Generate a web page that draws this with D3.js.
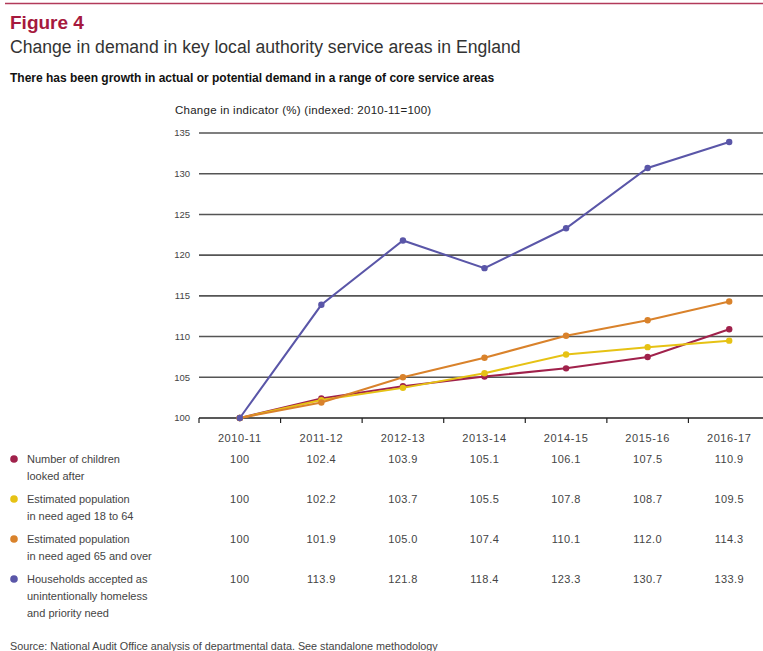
<!DOCTYPE html>
<html>
<head>
<meta charset="utf-8">
<script src="https://cdn.jsdelivr.net/npm/d3@7"></script>
<style>
  body { margin: 0; background: #fff; }
  svg { font-family: "Liberation Sans", Arial, sans-serif; }
</style>
</head>
<body>
<div id="container"></div>
<script>
/* DATA */
const years = ["2010-11", "2011-12", "2012-13", "2013-14", "2014-15", "2015-16", "2016-17"];
const children = [100, 102.4, 103.9, 105.1, 106.1, 107.5, 110.9];
const aged18to64 = [100, 102.2, 103.7, 105.5, 107.8, 108.7, 109.5];
const aged65plus = [100, 101.9, 105.0, 107.4, 110.1, 112.0, 114.3];
const homeless = [100, 113.9, 121.8, 118.4, 123.3, 130.7, 133.9];
const yTicks = [100, 105, 110, 115, 120, 125, 130, 135];
const seriesNames = [
  ["Number of children", "looked after"],
  ["Estimated population", "in need aged 18 to 64"],
  ["Estimated population", "in need aged 65 and over"],
  ["Households accepted as", "unintentionally homeless", "and priority need"]
];
const seriesColors = ["#a0214b", "#e6c214", "#d9822b", "#5a56a8"];

const series = [children, aged18to64, aged65plus, homeless].map((values, i) => ({
  name: seriesNames[i], color: seriesColors[i], values
}));

/* CONSTANTS */
const W = 763, H = 651;
const plotLeft = 199, plotRight = 770, plotTop = 133, plotBottom = 418;

const svg = d3.select("#container").append("svg")
  .attr("width", W).attr("height", H);

// top rule + titles
svg.append("line").attr("x1", 5).attr("x2", W).attr("y1", 3.5).attr("y2", 3.5)
  .attr("stroke", "#b23a5a").attr("stroke-width", 1.5);
svg.append("text").text("Figure 4").attr("x", 10).attr("y", 29)
  .attr("font-size", 19).attr("font-weight", "bold").attr("fill", "#a6193e");
svg.append("text").text("Change in demand in key local authority service areas in England")
  .attr("x", 10).attr("y", 53).attr("font-size", 17.6).attr("fill", "#333");
svg.append("text").text("There has been growth in actual or potential demand in a range of core service areas")
  .attr("x", 10).attr("y", 82).attr("font-size", 12).attr("font-weight", "bold").attr("fill", "#111");
svg.append("text").text("Change in indicator (%) (indexed: 2010-11=100)")
  .attr("x", 175).attr("y", 114).attr("font-size", 11.5).attr("letter-spacing", 0.25).attr("fill", "#222");

/* SCALES */
const x = d3.scaleBand().domain(years).range([plotLeft, plotRight]);
const y = d3.scaleLinear().domain([100, 135]).range([plotBottom, plotTop]);
const cx = d => x(d) + x.bandwidth() / 2;

// gridlines
svg.append("g").selectAll("line")
  .data(yTicks.filter(t => t > 100))
  .join("line")
  .attr("x1", plotLeft).attr("x2", W)
  .attr("y1", d => y(d)).attr("y2", d => y(d))
  .attr("stroke", "#555").attr("stroke-width", 1.6);

// y axis labels
svg.append("g").selectAll("text")
  .data(yTicks)
  .join("text")
  .text(d => d)
  .attr("x", 190).attr("y", d => y(d)).attr("dy", "0.35em")
  .attr("text-anchor", "end").attr("font-size", 9.5).attr("fill", "#444");

// x axis
const xAxis = svg.append("g").attr("transform", `translate(0,${plotBottom})`)
  .call(d3.axisBottom(x).tickSize(0).tickFormat(""));
xAxis.select(".domain").attr("d", `M${plotLeft},0H${W}`).attr("stroke", "#222").attr("stroke-width", 1.3);
xAxis.selectAll(".tick").remove();
xAxis.selectAll("line.tk")
  .data(years.concat(["end"]).map((d, i) => plotLeft + i * x.bandwidth()).filter(v => v < W))
  .join("line").attr("class", "tk")
  .attr("x1", d => d).attr("x2", d => d).attr("y1", 0).attr("y2", 5)
  .attr("stroke", "#222").attr("stroke-width", 1.2);

svg.append("g").selectAll("text")
  .data(years)
  .join("text")
  .text(d => d)
  .attr("x", d => cx(d)).attr("y", 442)
  .attr("text-anchor", "middle").attr("font-size", 11).attr("letter-spacing", 0.6).attr("fill", "#444");

// lines
const line = d3.line().x((d, i) => cx(years[i])).y(d => y(d));
const g = svg.append("g");
series.forEach(s => {
  g.append("path").datum(s.values)
    .attr("d", line).attr("fill", "none")
    .attr("stroke", s.color).attr("stroke-width", 2);
  g.selectAll(null).data(s.values).join("circle")
    .attr("cx", (d, i) => cx(years[i])).attr("cy", d => y(d))
    .attr("r", 3.2).attr("fill", s.color);
});

// table
const rowY = [463, 503, 543, 583];
series.forEach((s, r) => {
  svg.append("circle").attr("cx", 14).attr("cy", rowY[r] - 4).attr("r", 3.8).attr("fill", s.color);
  s.name.forEach((ln, k) => {
    svg.append("text").text(ln).attr("x", 27).attr("y", rowY[r] + k * 17)
      .attr("font-size", 11).attr("fill", "#444");
  });
  svg.append("g").selectAll("text").data(s.values).join("text")
    .text(d => d === 100 ? "100" : d.toFixed(1))
    .attr("x", (d, i) => cx(years[i])).attr("y", rowY[r])
    .attr("text-anchor", "middle").attr("font-size", 11).attr("letter-spacing", 0.4).attr("fill", "#444");
});

svg.append("text").text("Source: National Audit Office analysis of departmental data. See standalone methodology")
  .attr("x", 10).attr("y", 650).attr("font-size", 10.8).attr("fill", "#444");
</script>
</body>
</html>
